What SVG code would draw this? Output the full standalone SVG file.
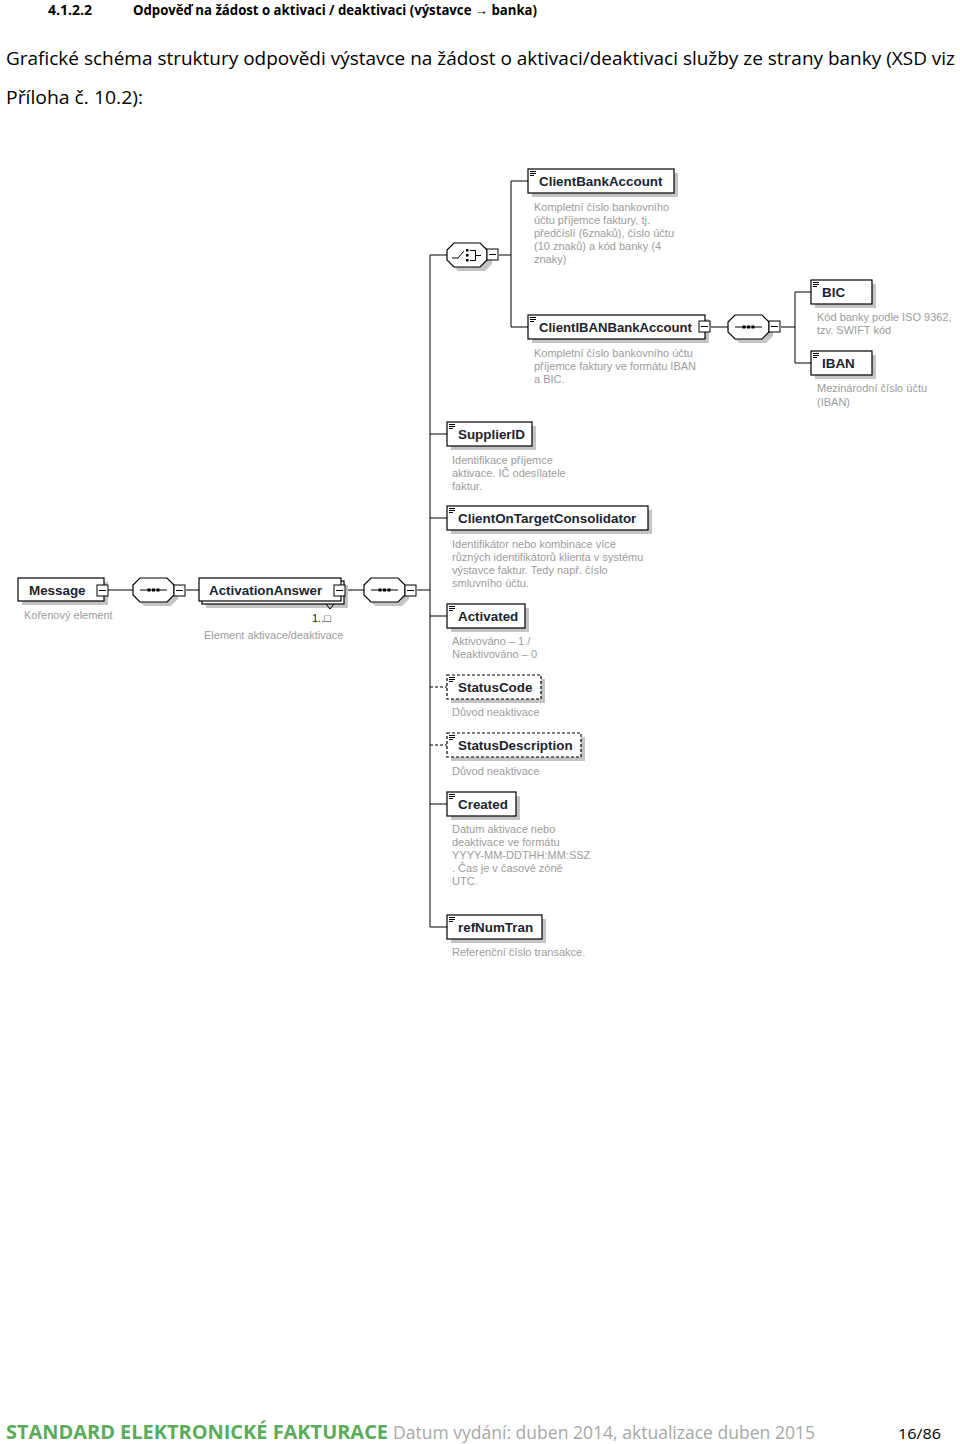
<svg xmlns="http://www.w3.org/2000/svg" width="960" height="1444" viewBox="0 0 960 1444">
<style>
.bg{fill:#fff}
.hd{font-family:"Open Sans","Liberation Sans",sans-serif;font-weight:bold;font-size:14px;fill:#000}
.pt{font-family:"Open Sans","Liberation Sans",sans-serif;font-size:19px;fill:#000}
.box{fill:#fff;stroke:#000;stroke-width:1.2}
.dbox{fill:#fff;stroke:#000;stroke-width:1.2;stroke-dasharray:3,2}
.sh{fill:#c4c4c4}
.lbl{font-family:"Liberation Sans",Arial,sans-serif;font-weight:bold;font-size:13.4px;fill:#1c2430}
.ds{font-family:"Liberation Sans",Arial,sans-serif;font-size:11px;fill:#9c9c9c}
.ln{fill:none;stroke:#000;stroke-width:1}
.dl{fill:none;stroke:#000;stroke-width:1;stroke-dasharray:3,2}
.mb{fill:#fff;stroke:#000;stroke-width:1}
.ic{fill:none;stroke:#000;stroke-width:1}
.dot{fill:#000}
.ft1{font-family:"Open Sans","Liberation Sans",sans-serif;font-weight:bold;font-size:20px;fill:#5aab5a}
.ft2{font-family:"Open Sans","Liberation Sans",sans-serif;font-size:19px;fill:#a8a8a8}
.ft3{font-family:"Open Sans","Liberation Sans",sans-serif;font-size:15px;fill:#000}
</style>
<defs>
<g id="minus"><rect class="mb" x="0" y="0" width="11" height="11"/><path class="ic" d="M2,5.5 H9"/></g>
<g id="seq">
<path class="sh" d="M11,4 H38 L45,11 V21 L38,28 H11 L4,21 V11 Z"/>
<path class="box" d="M7,0 H34 L41,7 V17 L34,24 H7 L0,17 V7 Z"/>
<path class="ic" d="M7,12 H34"/>
<rect class="dot" x="14.5" y="10.5" width="3" height="3"/><rect class="dot" x="19" y="10.5" width="3" height="3"/><rect class="dot" x="23.5" y="10.5" width="3" height="3"/>
</g>
<g id="eic"><path class="ic" d="M2,2.5 H8 M2,4.5 H8 M2,6.5 H6"/></g>
</defs>
<rect class="bg" x="0" y="0" width="960" height="1444"/>

<g id="header">
<text class="hd" x="48" y="15" textLength="44" lengthAdjust="spacingAndGlyphs">4.1.2.2</text>
<text class="hd" x="133" y="15" textLength="404" lengthAdjust="spacingAndGlyphs">Odpověď na žádost o aktivaci / deaktivaci (výstavce → banka)</text>
<text class="pt" x="6" y="65" textLength="949" lengthAdjust="spacingAndGlyphs">Grafické schéma struktury odpovědi výstavce na žádost o aktivaci/deaktivaci služby ze strany banky (XSD viz</text>
<text class="pt" x="6" y="104" textLength="137" lengthAdjust="spacingAndGlyphs">Příloha č. 10.2):</text>
</g>

<g id="connectors">
<path class="ln" d="M108,590 H133"/>
<path class="ln" d="M186,590 H199"/>
<path class="ln" d="M346,590 H364"/>
<path class="ln" d="M417,590 H430"/>
<path class="ln" d="M430,255 V927"/>
<path class="ln" d="M430,255 H447"/>
<path class="ln" d="M499,255 H511"/>
<path class="ln" d="M511,181 V327"/>
<path class="ln" d="M511,181 H528"/>
<path class="ln" d="M511,327 H528"/>
<path class="ln" d="M711,327 H728"/>
<path class="ln" d="M781,327 H795"/>
<path class="ln" d="M795,292 V363"/>
<path class="ln" d="M795,292 H811"/>
<path class="ln" d="M795,363 H811"/>
<path class="ln" d="M430,434 H447"/>
<path class="ln" d="M430,518 H447"/>
<path class="ln" d="M430,616 H447"/>
<path class="dl" d="M430,687 H447"/>
<path class="dl" d="M430,745 H447"/>
<path class="ln" d="M430,804 H447"/>
<path class="ln" d="M430,927 H447"/>
</g>

<g id="Message">
<rect class="sh" x="22" y="582" width="86" height="23"/>
<rect class="box" x="18" y="578" width="86" height="23"/>
<text class="lbl" x="29" y="595">Message</text>
<use href="#minus" x="97" y="585"/>
<text class="ds" x="24" y="619">Kořenový element</text>
</g>

<g id="seq1"><use href="#seq" x="133" y="578"/><use href="#minus" x="174" y="585"/></g>

<g id="ActivationAnswer">
<rect class="sh" x="206" y="585" width="142" height="23"/>
<rect class="box" x="202" y="581" width="142" height="23"/>
<rect class="box" x="199" y="578" width="142" height="23"/>
<text class="lbl" x="209" y="595">ActivationAnswer</text>
<use href="#minus" x="334" y="585"/>
<path class="ic" d="M326,604 L330,609 L334,604"/>
<text class="ds" x="312" y="622" style="fill:#222">1..□</text>
<text class="ds" x="204" y="639">Element aktivace/deaktivace</text>
</g>

<g id="seq2"><use href="#seq" x="364" y="578"/><use href="#minus" x="405" y="585"/></g>

<g id="choice">
<path class="sh" d="M458,247 H485 L492,254 V264 L485,271 H458 L451,264 V254 Z"/>
<path class="box" d="M454,243 H480 L487,250 V260 L480,267 H454 L447,260 V250 Z"/>
<path class="ic" d="M452,258 H458 L464,251"/>
<rect class="dot" x="466" y="249" width="2.5" height="2.5"/><rect class="dot" x="466" y="254" width="2.5" height="2.5"/><rect class="dot" x="466" y="259" width="2.5" height="2.5"/>
<path class="ic" d="M470,250.5 H475.5 V260.5 H470 M475.5,255.5 H481"/>
<use href="#minus" x="487" y="249"/>
</g>

<g id="ClientBankAccount">
<rect class="sh" x="532" y="173" width="146" height="24"/>
<rect class="box" x="528" y="169" width="146" height="24"/>
<use href="#eic" x="528" y="169"/>
<text class="lbl" x="539" y="186">ClientBankAccount</text>
<text class="ds" x="534" y="211">Kompletní číslo bankovního</text>
<text class="ds" x="534" y="224">účtu příjemce faktury, tj.</text>
<text class="ds" x="534" y="237">předčíslí (6znaků), číslo účtu</text>
<text class="ds" x="534" y="250">(10 znaků) a kód banky (4</text>
<text class="ds" x="534" y="263">znaky)</text>
</g>

<g id="ClientIBANBankAccount">
<rect class="sh" x="532" y="319" width="177" height="24"/>
<rect class="box" x="528" y="315" width="177" height="24"/>
<use href="#eic" x="528" y="315"/>
<text class="lbl" x="539" y="332" textLength="153" lengthAdjust="spacingAndGlyphs">ClientIBANBankAccount</text>
<use href="#minus" x="699" y="321"/>
<text class="ds" x="534" y="357">Kompletní číslo bankovního účtu</text>
<text class="ds" x="534" y="370">příjemce faktury  ve formátu IBAN</text>
<text class="ds" x="534" y="383">a BIC.</text>
</g>

<g id="seq3"><use href="#seq" x="728" y="315"/><use href="#minus" x="769" y="321"/></g>

<g id="BIC">
<rect class="sh" x="815" y="284" width="61" height="24"/>
<rect class="box" x="811" y="280" width="61" height="24"/>
<use href="#eic" x="811" y="280"/>
<text class="lbl" x="822" y="297">BIC</text>
<text class="ds" x="817" y="321">Kód banky podle ISO 9362,</text>
<text class="ds" x="817" y="334">tzv. SWIFT kód</text>
</g>

<g id="IBAN">
<rect class="sh" x="815" y="355" width="61" height="24"/>
<rect class="box" x="811" y="351" width="61" height="24"/>
<use href="#eic" x="811" y="351"/>
<text class="lbl" x="822" y="368">IBAN</text>
<text class="ds" x="817" y="392">Mezinárodní číslo účtu</text>
<text class="ds" x="817" y="406">(IBAN)</text>
</g>

<g id="SupplierID">
<rect class="sh" x="451" y="426" width="85" height="24"/>
<rect class="box" x="447" y="422" width="85" height="24"/>
<use href="#eic" x="447" y="422"/>
<text class="lbl" x="458" y="439">SupplierID</text>
<text class="ds" x="452" y="464">Identifikace příjemce</text>
<text class="ds" x="452" y="477">aktivace. IČ odesílatele</text>
<text class="ds" x="452" y="490">faktur.</text>
</g>

<g id="ClientOnTargetConsolidator">
<rect class="sh" x="451" y="510" width="201" height="24"/>
<rect class="box" x="447" y="506" width="201" height="24"/>
<use href="#eic" x="447" y="506"/>
<text class="lbl" x="458" y="523">ClientOnTargetConsolidator</text>
<text class="ds" x="452" y="548">Identifikátor nebo kombinace více</text>
<text class="ds" x="452" y="561">různých identifikátorů klienta v systému</text>
<text class="ds" x="452" y="574">výstavce faktur. Tedy např. číslo</text>
<text class="ds" x="452" y="587">smluvního účtu.</text>
</g>

<g id="Activated">
<rect class="sh" x="451" y="608" width="78" height="24"/>
<rect class="box" x="447" y="604" width="78" height="24"/>
<use href="#eic" x="447" y="604"/>
<text class="lbl" x="458" y="621">Activated</text>
<text class="ds" x="452" y="645">Aktivováno – 1 /</text>
<text class="ds" x="452" y="658">Neaktivováno – 0</text>
</g>

<g id="StatusCode">
<rect class="sh" x="451" y="679" width="94" height="24"/>
<rect class="dbox" x="447" y="675" width="94" height="24"/>
<use href="#eic" x="447" y="675"/>
<text class="lbl" x="458" y="692">StatusCode</text>
<text class="ds" x="452" y="716">Důvod neaktivace</text>
</g>

<g id="StatusDescription">
<rect class="sh" x="451" y="737" width="134" height="24"/>
<rect class="dbox" x="447" y="733" width="134" height="24"/>
<use href="#eic" x="447" y="733"/>
<text class="lbl" x="458" y="750">StatusDescription</text>
<text class="ds" x="452" y="775">Důvod neaktivace</text>
</g>

<g id="Created">
<rect class="sh" x="451" y="796" width="69" height="24"/>
<rect class="box" x="447" y="792" width="69" height="24"/>
<use href="#eic" x="447" y="792"/>
<text class="lbl" x="458" y="809">Created</text>
<text class="ds" x="452" y="833">Datum aktivace nebo</text>
<text class="ds" x="452" y="846">deaktivace ve formátu</text>
<text class="ds" x="452" y="859">YYYY-MM-DDTHH:MM:SSZ</text>
<text class="ds" x="452" y="872">. Čas je v časové zóně</text>
<text class="ds" x="452" y="885">UTC.</text>
</g>

<g id="refNumTran">
<rect class="sh" x="451" y="919" width="95" height="24"/>
<rect class="box" x="447" y="915" width="95" height="24"/>
<use href="#eic" x="447" y="915"/>
<text class="lbl" x="458" y="932">refNumTran</text>
<text class="ds" x="452" y="956">Referenční číslo transakce.</text>
</g>

<g id="footer">
<text class="ft1" x="6" y="1439" textLength="382" lengthAdjust="spacingAndGlyphs">STANDARD ELEKTRONICKÉ FAKTURACE</text>
<text class="ft2" x="393" y="1439" textLength="422" lengthAdjust="spacingAndGlyphs">Datum vydání: duben 2014, aktualizace duben 2015</text>
<text class="ft3" x="898" y="1439" textLength="43" lengthAdjust="spacingAndGlyphs">16/86</text>
</g>
</svg>
